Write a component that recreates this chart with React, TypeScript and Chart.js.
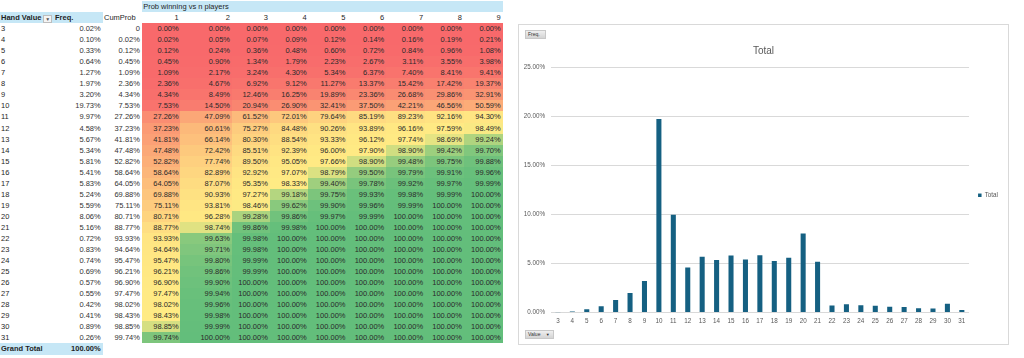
import React, { useEffect, useRef } from 'react';
import { Chart, registerables } from 'chart.js';

Chart.register(...registerables);

// ---------- data ----------
const handValues = [3, 4, 5, 6, 7, 8, 9, 10, 11, 12, 13, 14, 15, 16, 17, 18, 19, 20, 21, 22, 23, 24, 25, 26, 27, 28, 29, 30, 31];
const freqPct = [0.02, 0.10, 0.33, 0.64, 1.27, 1.97, 3.20, 19.73, 9.97, 4.58, 5.67, 5.34, 5.81, 5.41, 5.83, 5.24, 5.59, 8.06, 5.16, 0.72, 0.83, 0.74, 0.69, 0.57, 0.55, 0.42, 0.41, 0.89, 0.26];
const cumProbPct = [0, 0.02, 0.12, 0.45, 1.09, 2.36, 4.34, 7.53, 27.26, 37.23, 41.81, 47.48, 52.82, 58.64, 64.05, 69.88, 75.11, 80.71, 88.77, 93.93, 94.64, 95.47, 96.21, 96.90, 97.47, 98.02, 98.43, 98.85, 99.74];
const playerCounts = [1, 2, 3, 4, 5, 6, 7, 8, 9];
const winP1 = [0.00, 0.02, 0.12, 0.45, 1.09, 2.36, 4.34, 7.53, 27.26, 37.23, 41.81, 47.48, 52.82, 58.64, 64.05, 69.88, 75.11, 80.71, 88.77, 93.93, 94.64, 95.47, 96.21, 96.90, 97.47, 98.02, 98.43, 98.85, 99.74];
const winP2 = [0.00, 0.05, 0.24, 0.90, 2.17, 4.67, 8.49, 14.50, 47.09, 60.61, 66.14, 72.42, 77.74, 82.89, 87.07, 90.93, 93.81, 96.28, 98.74, 99.63, 99.71, 99.80, 99.86, 99.90, 99.94, 99.96, 99.98, 99.99, 100.00];
const winP3 = [0.00, 0.07, 0.36, 1.34, 3.24, 6.92, 12.46, 20.94, 61.52, 75.27, 80.30, 85.51, 89.50, 92.92, 95.35, 97.27, 98.46, 99.28, 99.86, 99.98, 99.98, 99.99, 99.99, 100.00, 100.00, 100.00, 100.00, 100.00, 100.00];
const winP4 = [0.00, 0.09, 0.48, 1.79, 4.30, 9.12, 16.25, 26.90, 72.01, 84.48, 88.54, 92.39, 95.05, 97.07, 98.33, 99.18, 99.62, 99.86, 99.98, 100.00, 100.00, 100.00, 100.00, 100.00, 100.00, 100.00, 100.00, 100.00, 100.00];
const winP5 = [0.00, 0.12, 0.60, 2.23, 5.34, 11.27, 19.89, 32.41, 79.64, 90.26, 93.33, 96.00, 97.66, 98.79, 99.40, 99.75, 99.90, 99.97, 100.00, 100.00, 100.00, 100.00, 100.00, 100.00, 100.00, 100.00, 100.00, 100.00, 100.00];
const winP6 = [0.00, 0.14, 0.72, 2.67, 6.37, 13.37, 23.36, 37.50, 85.19, 93.89, 96.12, 97.90, 98.90, 99.50, 99.78, 99.93, 99.96, 99.99, 100.00, 100.00, 100.00, 100.00, 100.00, 100.00, 100.00, 100.00, 100.00, 100.00, 100.00];
const winP7 = [0.00, 0.16, 0.84, 3.11, 7.40, 15.42, 26.68, 42.21, 89.23, 96.16, 97.74, 98.90, 99.48, 99.79, 99.92, 99.98, 99.99, 100.00, 100.00, 100.00, 100.00, 100.00, 100.00, 100.00, 100.00, 100.00, 100.00, 100.00, 100.00];
const winP8 = [0.00, 0.19, 0.96, 3.55, 8.41, 17.42, 29.86, 46.56, 92.16, 97.59, 98.69, 99.42, 99.75, 99.91, 99.97, 99.99, 100.00, 100.00, 100.00, 100.00, 100.00, 100.00, 100.00, 100.00, 100.00, 100.00, 100.00, 100.00, 100.00];
const winP9 = [0.00, 0.21, 1.08, 3.98, 9.41, 19.37, 32.91, 50.59, 94.30, 98.49, 99.24, 99.70, 99.88, 99.96, 99.99, 100.00, 100.00, 100.00, 100.00, 100.00, 100.00, 100.00, 100.00, 100.00, 100.00, 100.00, 100.00, 100.00, 100.00];
const winCols = [winP1, winP2, winP3, winP4, winP5, winP6, winP7, winP8, winP9];
const grandTotalPct = 100.0;
const yTicksMax = 25;
const yTicksStep = 5;

// ---------- styles ----------
const BAR = '#156082';
const AXIS_TEXT = '#595959';
const GRID = '#d9d9d9';
const HEADER_BLUE = '#c6e7f6';
const FONT = '"Liberation Sans", Arial, sans-serif';
const RED = [248, 105, 107];
const YEL = [255, 235, 132];
const GRN = [99, 190, 123];

const allVals = winCols.flat().slice().sort((a, b) => a - b);
const loV = allVals[0];
const hiV = allVals[allVals.length - 1];
const midPos = (allVals.length - 1) * 0.5;
const midV = allVals[Math.floor(midPos)] + (allVals[Math.ceil(midPos)] - allVals[Math.floor(midPos)]) * (midPos - Math.floor(midPos));

function mix(a: number[], b: number[], t: number) {
  const c = a.map((x, i) => Math.round(x + (b[i] - x) * t));
  return `rgb(${c[0]},${c[1]},${c[2]})`;
}
function heatColor(v: number) {
  if (v <= midV) return mix(RED, YEL, midV === loV ? 1 : (v - loV) / (midV - loV));
  return mix(YEL, GRN, hiV === midV ? 0 : (v - midV) / (hiV - midV));
}
const pct = (v: number) => v.toFixed(2) + '%';

const colW = [53, 49.5, 39.2, 38.8, 51.3, 37.9, 38.8, 38.8, 38.8, 38.8, 38.8, 38.8];
const ROW_H = 11.04;

const tdBase: React.CSSProperties = {
  height: ROW_H,
  lineHeight: ROW_H + 'px',
  padding: '0 1.8px 0 1px',
  whiteSpace: 'nowrap',
  overflow: 'hidden',
  boxSizing: 'border-box',
};

function SheetTable() {
  return (
    <table
      style={{
        position: 'absolute',
        left: 0,
        top: 1,
        borderCollapse: 'collapse',
        borderSpacing: 0,
        tableLayout: 'fixed',
        width: colW.reduce((a, b) => a + b, 0),
        fontFamily: FONT,
        fontSize: 7.5,
        color: '#1f1f1f',
      }}
    >
      <colgroup>
        {colW.map((w, i) => (
          <col key={i} style={{ width: w }} />
        ))}
      </colgroup>
      <tbody>
        <tr>
          <td style={tdBase}></td>
          <td style={tdBase}></td>
          <td style={tdBase}></td>
          <td colSpan={9} style={{ ...tdBase, background: HEADER_BLUE, paddingLeft: 1.5 }}>
            Prob winning vs n players
          </td>
        </tr>
        <tr>
          <td style={{ ...tdBase, background: HEADER_BLUE, fontWeight: 'bold', position: 'relative' }}>
            Hand Value
            <span
              style={{
                position: 'absolute',
                left: 43.3,
                top: 2.5,
                width: 9,
                height: 8,
                boxSizing: 'border-box',
                border: '1px solid #bdbdbd',
                background: '#f4f4f4',
                fontSize: 5,
                lineHeight: '6px',
                textAlign: 'center',
                color: '#555',
                fontWeight: 'normal',
              }}
            >
              ▼
            </span>
          </td>
          <td style={{ ...tdBase, background: HEADER_BLUE, fontWeight: 'bold', paddingLeft: 2 }}>Freq.</td>
          <td style={{ ...tdBase, paddingLeft: 1.5 }}>CumProb</td>
          {playerCounts.map((n) => (
            <td key={n} style={{ ...tdBase, textAlign: 'right' }}>
              {n}
            </td>
          ))}
        </tr>
        {handValues.map((h, r) => (
          <tr key={h}>
            <td style={tdBase}>{h}</td>
            <td style={{ ...tdBase, textAlign: 'right', color: '#333' }}>{pct(freqPct[r])}</td>
            <td style={{ ...tdBase, textAlign: 'right', color: '#333' }}>
              {cumProbPct[r] === 0 ? '0' : pct(cumProbPct[r])}
            </td>
            {winCols.map((col, c) => (
              <td key={c} style={{ ...tdBase, textAlign: 'right', background: heatColor(col[r]), color: '#2a2a2a' }}>
                {pct(col[r])}
              </td>
            ))}
          </tr>
        ))}
        <tr>
          <td style={{ ...tdBase, background: HEADER_BLUE, fontWeight: 'bold' }}>Grand Total</td>
          <td style={{ ...tdBase, background: HEADER_BLUE, fontWeight: 'bold', textAlign: 'right' }}>
            {pct(grandTotalPct)}
          </td>
          <td colSpan={10} style={tdBase}></td>
        </tr>
      </tbody>
    </table>
  );
}

const btnStyle: React.CSSProperties = {
  position: 'absolute',
  height: 9,
  boxSizing: 'border-box',
  background: 'linear-gradient(#efefef, #d4d4d4)',
  border: '1px solid #c8c8c8',
  fontFamily: FONT,
  fontSize: 5,
  lineHeight: '7px',
  color: '#333',
  paddingLeft: 2,
};

export default function App() {
  const canvasRef = useRef<HTMLCanvasElement>(null);

  useEffect(() => {
    if (!canvasRef.current) return;
    const tickFont = { family: FONT, size: 6.3 };
    const chart = new Chart(canvasRef.current, {
      type: 'bar',
      data: {
        labels: handValues.map(String),
        datasets: [
          {
            label: 'Total',
            data: freqPct,
            backgroundColor: BAR,
            borderWidth: 0,
            barPercentage: 0.35,
            categoryPercentage: 1,
          },
        ],
      },
      options: {
        responsive: false,
        animation: false,
        devicePixelRatio: 1,
        layout: { padding: { top: 0, right: 0, bottom: 14, left: 0 } },
        plugins: {
          title: {
            display: true,
            text: 'Total',
            color: AXIS_TEXT,
            font: { family: FONT, size: 10, weight: 'normal' },
            padding: { top: 20.7, bottom: 9.6 },
          },
          legend: {
            display: true,
            position: 'right',
            title: {
              display: true,
              text: '',
              font: tickFont,
              padding: { top: 0, bottom: 28 },
            },
            labels: {
              boxWidth: 3.5,
              boxHeight: 3.5,
              padding: 9,
              color: AXIS_TEXT,
              font: tickFont,
            },
          },
          tooltip: { enabled: false },
        },
        scales: {
          x: {
            grid: { display: false, drawTicks: false },
            border: { display: false },
            ticks: {
              color: AXIS_TEXT,
              font: tickFont,
              padding: 5,
              maxRotation: 0,
              autoSkip: false,
            },
          },
          y: {
            min: 0,
            max: yTicksMax,
            afterFit: (scale: any) => {
              scale.width = 31.7;
            },
            grid: { color: GRID, lineWidth: 1, drawTicks: false },
            border: { display: false },
            ticks: {
              stepSize: yTicksStep,
              padding: 5.7,
              color: AXIS_TEXT,
              font: tickFont,
              callback: (v: any) => Number(v).toFixed(2) + '%',
            },
          },
        },
      },
    });
    return () => chart.destroy();
  }, []);

  return (
    <div
      style={{
        position: 'absolute',
        left: 0,
        top: 0,
        width: 1024,
        height: 358,
        background: '#ffffff',
        overflow: 'hidden',
      }}
    >
      <SheetTable />
      <div
        style={{
          position: 'absolute',
          left: 518,
          top: 24,
          width: 491,
          height: 321,
          boxSizing: 'border-box',
          border: '1px solid #d9d9d9',
          background: '#fff',
        }}
      >
        <canvas ref={canvasRef} width={489} height={319} style={{ display: 'block' }} />
        <div style={{ ...btnStyle, left: 6, top: 5, width: 21 }}>Freq.</div>
        <div style={{ ...btnStyle, left: 6, top: 305, width: 29 }}>
          Value <span style={{ fontSize: 4, marginLeft: 4 }}>▼</span>
        </div>
      </div>
    </div>
  );
}
